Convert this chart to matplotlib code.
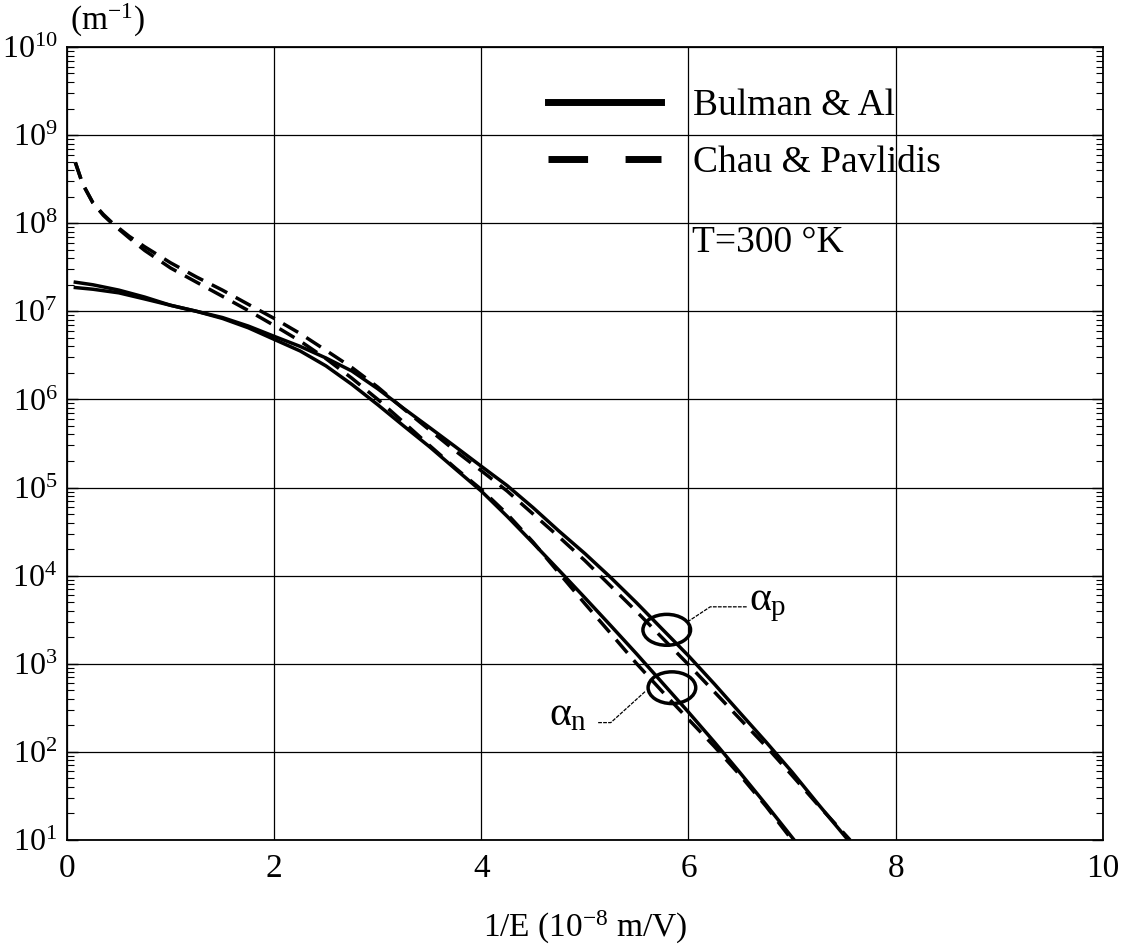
import matplotlib
matplotlib.use("Agg")
import matplotlib.pyplot as plt
from matplotlib.patches import Ellipse
from matplotlib.lines import Line2D
from matplotlib.ticker import LogLocator, NullFormatter

plt.rcParams['font.family'] = ['Liberation Serif', 'DejaVu Serif']
plt.rcParams['mathtext.fontset'] = 'custom'
plt.rcParams['mathtext.rm'] = 'Liberation Serif'
plt.rcParams['mathtext.it'] = 'Liberation Serif'

# 1/E (10^-8 m/V) et coefficients d'ionisation (m^-1)
x_bulman_n = [0.08, 0.25, 0.5, 0.75, 1.0, 1.25, 1.5, 1.75, 2.0, 2.25, 2.5, 2.75, 3.0,
              3.25, 3.5, 3.75, 4.0, 4.25, 4.5, 4.75, 5.0, 5.25, 5.5, 5.75, 6.0,
              6.25, 6.5, 6.75, 7.02]
an_bulman = [2.14e7, 2.0e7, 1.74e7, 1.45e7, 1.17e7, 1.0e7, 8.3e6, 6.5e6, 4.8e6, 3.55e6,
             2.4e6, 1.48e6, 8.7e5, 5.0e5, 2.9e5, 1.62e5, 9.1e4, 4.7e4, 2.34e4, 1.15e4,
             5.6e3, 2.7e3, 1.29e3, 603, 282, 129, 57.5, 25.1, 10]

x_bulman_p = [0.08, 0.25, 0.5, 0.75, 1.0, 1.25, 1.5, 1.75, 2.0, 2.25, 2.5, 2.75, 3.0,
              3.25, 3.5, 3.75, 4.0, 4.25, 4.5, 4.75, 5.0, 5.25, 5.5, 5.75, 6.0,
              6.25, 6.5, 6.75, 7.0, 7.25, 7.54]
ap_bulman = [1.86e7, 1.78e7, 1.62e7, 1.38e7, 1.17e7, 1.0e7, 8.5e6, 6.8e6, 5.2e6, 4.0e6,
             2.95e6, 2.1e6, 1.32e6, 7.9e5, 4.8e5, 2.9e5, 1.74e5, 1.05e5, 5.9e4, 3.2e4,
             1.78e4, 9.5e3, 4.9e3, 2.45e3, 1.23e3, 589, 275, 129, 59, 25.7, 10]

x_chau_n = [0.08, 0.15, 0.25, 0.35, 0.44, 0.6, 0.75, 1.0, 1.25, 1.5, 1.75, 2.0, 2.25,
            2.5, 2.75, 3.0, 3.25, 3.5, 3.75, 4.0, 4.25, 4.5, 4.75, 5.0, 5.25, 5.5,
            5.75, 6.0, 6.25, 6.5, 6.75, 7.0]
an_chau = [4.9e8, 2.8e8, 1.7e8, 1.23e8, 9.8e7, 6.8e7, 4.9e7, 3.1e7, 2.14e7, 1.48e7,
           1.02e7, 6.9e6, 4.6e6, 2.9e6, 1.74e6, 1.0e6, 5.5e5, 3.0e5, 1.66e5, 9.5e4,
           5.0e4, 2.4e4, 1.07e4, 4.8e3, 2.2e3, 1.0e3, 479, 234, 115, 54, 24, 10]

x_chau_p = [0.08, 0.15, 0.25, 0.35, 0.44, 0.6, 0.75, 1.0, 1.25, 1.5, 1.75, 2.0, 2.25,
            2.5, 2.75, 3.0, 3.25, 3.5, 3.75, 4.0, 4.25, 4.5, 4.75, 5.0, 5.25, 5.5,
            5.75, 6.0, 6.25, 6.5, 6.75, 7.0, 7.25, 7.56]
ap_chau = [4.9e8, 2.8e8, 1.7e8, 1.26e8, 1.0e8, 7.1e7, 5.4e7, 3.55e7, 2.45e7, 1.74e7,
           1.2e7, 8.3e6, 5.6e6, 3.6e6, 2.3e6, 1.38e6, 7.8e5, 4.5e5, 2.6e5, 1.55e5,
           9.1e4, 5.0e4, 2.75e4, 1.48e4, 7.6e3, 3.9e3, 1.95e3, 977, 479, 234, 115,
           54, 25, 10]

fig = plt.figure(figsize=(11.23, 9.49), dpi=100)
ax = fig.add_axes([0.0597, 0.1149, 0.9223, 0.8356])

lw = 2.5
dash = (5.0, 2.8)
ax.plot(x_bulman_n, an_bulman, color='black', lw=lw)
ax.plot(x_bulman_p, ap_bulman, color='black', lw=lw)
ax.plot(x_chau_n, an_chau, color='black', lw=lw, linestyle=(0, dash))
ax.plot(x_chau_p, ap_chau, color='black', lw=lw, linestyle=(0, dash))

ax.set_yscale('log')
ax.set_xlim(0, 10)
ax.set_ylim(10, 1e10)
ax.set_xticks([0, 2, 4, 6, 8, 10])
ax.yaxis.set_major_locator(LogLocator(base=10, numticks=20))
ax.yaxis.set_minor_locator(LogLocator(base=10, subs=range(2, 10), numticks=20))
ax.yaxis.set_minor_formatter(NullFormatter())
ax.grid(True, which='major', color='black', lw=0.9)
ax.tick_params(axis='x', length=0, labelsize=24, pad=10)
ax.tick_params(axis='y', which='both', direction='in', left=True, right=True, labelsize=23, pad=7)
ax.tick_params(axis='y', which='major', length=8, width=1)
ax.tick_params(axis='y', which='minor', length=5, width=0.8)
for s in ax.spines.values():
    s.set_linewidth(1.3)

ax.set_xlabel(r'1/E (10$^{\mathdefault{-8}}$ m/V)', fontsize=24, labelpad=18)
fig.text(0.062, 0.978, r'(m$^{\mathdefault{-1}}$)', fontsize=24, ha='left', va='center')

# légende
leg_handles = [Line2D([], [], color='black', lw=5),
               Line2D([], [], color='black', lw=5, linestyle=(0, (5.7, 5.4)))]
ax.legend(leg_handles, ['Bulman & Al', 'Chau & Pavlidis'], loc='upper left',
          bbox_to_anchor=(0.432, 0.99), frameon=False, fontsize=27,
          handlelength=3.0, handletextpad=0.85, labelspacing=0.6)
ax.text(0.603, 0.753, 'T=300 °K', transform=ax.transAxes, fontsize=27, va='center')

# ellipses et étiquettes alpha
ax.add_patch(Ellipse((0.579, 0.265), 0.046, 0.039, transform=ax.transAxes,
                     fill=False, ec='black', lw=2.5))
ax.add_patch(Ellipse((0.584, 0.192), 0.046, 0.040, transform=ax.transAxes,
                     fill=False, ec='black', lw=2.5))
ax.plot([0.599, 0.621, 0.657], [0.275, 0.294, 0.294], transform=ax.transAxes,
        color='black', lw=0.9, linestyle=(0, (3, 1)))
ax.plot([0.558, 0.525, 0.512], [0.187, 0.148, 0.148], transform=ax.transAxes,
        color='black', lw=0.9, linestyle=(0, (3, 1)))
ax.text(0.658, 0.296, r'$\alpha_{\mathrm{p}}$', transform=ax.transAxes, fontsize=30, va='center')
ax.text(0.465, 0.157, r'$\alpha_{\mathrm{n}}$', transform=ax.transAxes, fontsize=30, va='center')

fig.savefig('out.png', dpi=100)
